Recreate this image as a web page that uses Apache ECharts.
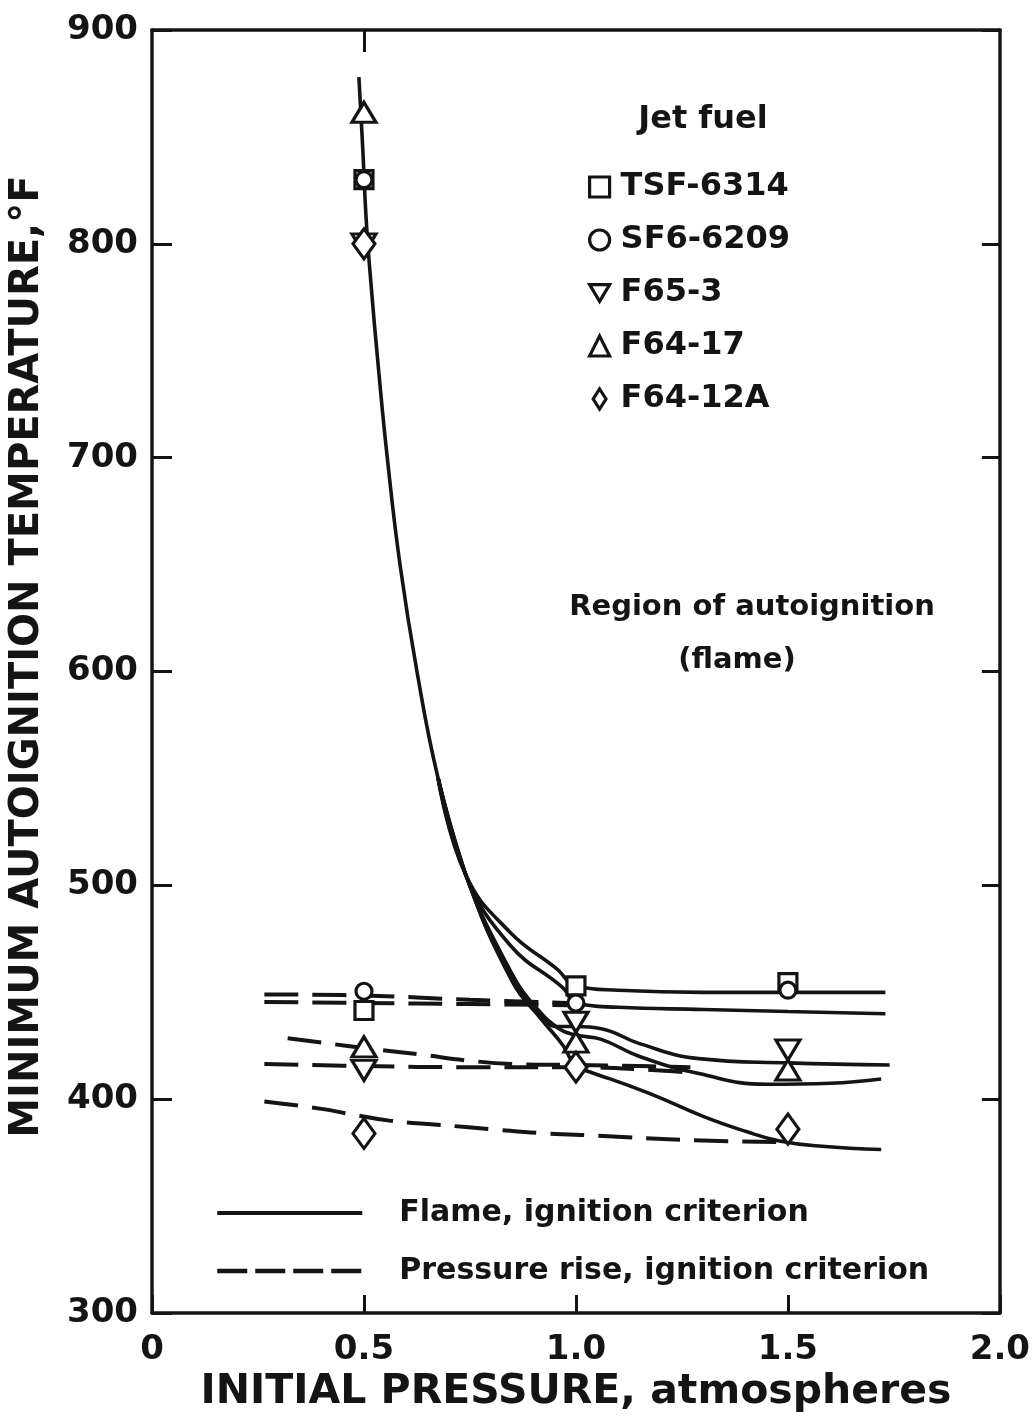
<!DOCTYPE html>
<html>
<head>
<meta charset="utf-8">
<script src="https://cdn.jsdelivr.net/npm/echarts@6/dist/echarts.min.js"></script>
<style>
  html, body { margin: 0; padding: 0; background: #fff; }
  #chart { width: 1033px; height: 1418px; }
</style>
</head>
<body>
<div id="chart"></div>
<script>
// Axis ticks
const xTickLabels = ['0', '0.5', '1.0', '1.5', '2.0'];
const yTicks = [300, 400, 500, 600, 700, 800, 900];

// Fuel names (legend order)
const fuels = ['TSF-6314', 'SF6-6209', 'F65-3', 'F64-17', 'F64-12A'];

// Measured points [initial pressure (atm), min. autoignition temperature (°F)]
const ptsTSF6314 = [[0.5, 830], [0.5, 441.5], [1.0, 453], [1.5, 454.5]];
const ptsSF66209 = [[0.5, 830], [0.5, 450.5], [1.0, 445], [1.5, 451]];
const ptsF653 = [[0.5, 800], [0.5, 413.5], [1.0, 436], [1.5, 423]];
const ptsF6417 = [[0.5, 861.5], [0.5, 424.5], [1.0, 426.7], [1.5, 413.7]];
const ptsF6412A = [[0.5, 800], [0.5, 384], [1.0, 415], [1.5, 386]];

// Flame ignition criterion curves (solid)
const flameTrunk = [[0.488, 878], [0.497, 845], [0.505, 812], [0.515, 785], [0.535, 740], [0.555, 700], [0.585, 650], [0.625, 600], [0.675, 550], [0.74, 505]];
const flameTSF6314 = [[0.675, 550], [0.74, 505], [0.845, 478], [0.955, 461], [1.0, 453], [1.1, 451], [1.3, 450], [1.5, 450], [1.73, 450]];
const flameSF66209 = [[0.675, 550], [0.74, 505], [0.845, 472], [0.97, 452], [1.0, 445], [1.1, 443], [1.3, 442], [1.5, 441], [1.73, 440]];
const flameF6417 = [[0.675, 550], [0.74, 505], [0.84, 462], [0.9, 444], [0.955, 434], [1.0, 434], [1.06, 433], [1.15, 426], [1.29, 419], [1.5, 417], [1.74, 416]];
const flameF653 = [[0.675, 550], [0.74, 505], [0.845, 458], [0.91, 442], [0.96, 433], [1.0, 430], [1.06, 428], [1.15, 420], [1.29, 412], [1.45, 407], [1.6, 407.5], [1.72, 409.5]];
const flameF6412A = [[0.675, 550], [0.74, 505], [0.85, 455], [0.92, 437], [0.97, 425], [1.0, 415], [1.03, 413], [1.17, 403], [1.3, 392], [1.4, 385], [1.48, 380.5], [1.58, 378], [1.72, 376.5]];

// Pressure rise ignition criterion curves (dashed)
const pressTSF6314 = [[0.265, 445.5], [0.5, 445], [0.75, 444.5], [0.98, 444]];
const pressSF66209 = [[0.265, 449], [0.5, 448.5], [0.75, 446.5], [0.98, 445]];
const pressF6417 = [[0.32, 428.5], [0.5, 424], [0.63, 421], [0.75, 418], [0.85, 416.5], [1.0, 416], [1.15, 415.5], [1.27, 415]];
const pressF653 = [[0.265, 416.5], [0.5, 415.5], [0.75, 415], [1.0, 415], [1.15, 414], [1.27, 412.5]];
const pressF6412A = [[0.265, 399], [0.4, 395.5], [0.47, 393], [0.56, 390], [0.68, 388], [0.8, 386], [0.93, 384], [1.05, 383], [1.25, 381], [1.48, 380]];

const FLAME = 'Flame, ignition criterion';
const PRESS = 'Pressure rise, ignition criterion';
const FONT = 'DejaVu Sans';
const INK = '#141414';
const DASH = [34, 14];

// Legend glyphs for the inverted triangle and the tall diamond
const ICON_DOWN_TRIANGLE = 'path://M0,0 L24,0 L12,20 Z';
const ICON_TALL_DIAMOND = 'path://M9,0 L18,14 L9,28 L0,14 Z';

function flameLine(data) {
  return {
    name: FLAME, type: 'line', data: data, symbol: 'none',
    smooth: 0.45, z: 2, silent: true,
    itemStyle: { color: INK },
    lineStyle: { color: INK, width: 3.6, type: 'solid' }
  };
}
function pressLine(data) {
  return {
    name: PRESS, type: 'line', data: data, symbol: 'none',
    smooth: 0.45, z: 2, silent: true,
    itemStyle: { color: INK },
    lineStyle: { color: INK, width: 4, type: DASH }
  };
}
function markers(name, data, symbol, size, rotate) {
  return {
    name: name, type: 'scatter', data: data, symbol: symbol,
    symbolSize: size, symbolRotate: rotate || 0, z: 5,
    itemStyle: { color: '#fff', borderColor: INK, borderWidth: 3.2, opacity: 1 }
  };
}

const chart = echarts.init(document.getElementById('chart'), null, { renderer: 'canvas' });

const option = {
  backgroundColor: '#fff',
  animation: false,
  grid: { left: 149, right: 30, top: 30, bottom: 95, containLabel: false },
  xAxis: [{
    type: 'value', position: 'bottom', min: 0, max: 2, interval: 0.5,
    name: 'INITIAL PRESSURE, atmospheres', nameLocation: 'middle', nameGap: 48,
    nameTextStyle: { fontFamily: FONT, fontWeight: 'bold', fontSize: 41, color: INK },
    axisLine: { show: true, onZero: false, lineStyle: { color: INK, width: 3.5 } },
    axisTick: { show: true, inside: true, length: 18, lineStyle: { color: INK, width: 3 } },
    axisLabel: {
      margin: 20, fontFamily: FONT, fontWeight: 'bold', fontSize: 34, color: INK,
      formatter: v => xTickLabels[Math.round(v / 0.5)]
    },
    splitLine: { show: false }
  }, {
    type: 'value', position: 'top', min: 0, max: 2, interval: 0.5,
    axisLine: { show: true, onZero: false, lineStyle: { color: INK, width: 3.5 } },
    axisTick: { show: true, inside: true, length: 22, customValues: [0.5], lineStyle: { color: INK, width: 3 } },
    axisLabel: { show: false },
    splitLine: { show: false }
  }],
  yAxis: [{
    type: 'value', position: 'left', min: yTicks[0], max: yTicks[yTicks.length - 1], interval: 100,
    name: 'MINIMUM AUTOIGNITION TEMPERATURE,°F', nameLocation: 'middle', nameGap: 104,
    nameTextStyle: { fontFamily: FONT, fontWeight: 'bold', fontSize: 40, color: INK, padding: [0, 0, 0, 30] },
    axisLine: { show: true, onZero: false, lineStyle: { color: INK, width: 3.5 } },
    axisTick: { show: true, inside: true, length: 20, lineStyle: { color: INK, width: 3 } },
    axisLabel: { margin: 14, fontFamily: FONT, fontWeight: 'bold', fontSize: 34, color: INK },
    splitLine: { show: false }
  }, {
    type: 'value', position: 'right', min: yTicks[0], max: yTicks[yTicks.length - 1], interval: 100,
    axisLine: { show: true, onZero: false, lineStyle: { color: INK, width: 3.5 } },
    axisTick: { show: true, inside: true, length: 18, lineStyle: { color: INK, width: 3 } },
    axisLabel: { show: false },
    splitLine: { show: false }
  }],
  legend: [{
    data: [
      { name: fuels[0] },
      { name: fuels[1] },
      { name: fuels[2], icon: ICON_DOWN_TRIANGLE },
      { name: fuels[3] },
      { name: fuels[4], icon: ICON_TALL_DIAMOND }
    ],
    orient: 'vertical', left: 583, top: 166,
    itemWidth: 20, itemHeight: 20, itemGap: 21,
    selectedMode: false,
    itemStyle: { color: '#fff', borderColor: INK, borderWidth: 3.2, opacity: 1 },
    textStyle: { fontFamily: FONT, fontWeight: 'bold', fontSize: 32, color: INK, padding: [0, 0, 0, 6] }
  }, {
    data: [
      { name: FLAME, lineStyle: { color: INK, width: 4, type: 'solid' } },
      { name: PRESS, lineStyle: { color: INK, width: 4.5, type: [30, 8] } }
    ],
    orient: 'vertical', left: 210, top: 1193,
    itemWidth: 145, itemHeight: 8, itemGap: 28,
    selectedMode: false,
    itemStyle: { opacity: 0 },
    textStyle: { fontFamily: FONT, fontWeight: 'bold', fontSize: 30, color: INK, padding: [0, 0, 0, 32] }
  }],
  graphic: [
    { type: 'text', x: 703, y: 120, style: { text: 'Jet fuel', fill: INK, font: 'bold 32px "DejaVu Sans"', textAlign: 'center', textVerticalAlign: 'middle' } },
    { type: 'text', x: 752, y: 607, style: { text: 'Region of autoignition', fill: INK, font: 'bold 29px "DejaVu Sans"', textAlign: 'center', textVerticalAlign: 'middle' } },
    { type: 'text', x: 737, y: 660, style: { text: '(flame)', fill: INK, font: 'bold 29px "DejaVu Sans"', textAlign: 'center', textVerticalAlign: 'middle' } }
  ],
  series: [
    flameLine(flameTrunk),
    flameLine(flameTSF6314),
    flameLine(flameSF66209),
    flameLine(flameF6417),
    flameLine(flameF653),
    flameLine(flameF6412A),
    pressLine(pressTSF6314),
    pressLine(pressSF66209),
    pressLine(pressF6417),
    pressLine(pressF653),
    pressLine(pressF6412A),
    markers(fuels[0], ptsTSF6314, 'rect', 18),
    markers(fuels[1], ptsSF66209, 'circle', 16),
    markers(fuels[2], ptsF653, 'triangle', [24, 20], 180),
    markers(fuels[3], ptsF6417, 'triangle', [24, 20]),
    markers(fuels[4], ptsF6412A, 'diamond', [22, 30])
  ]
};

chart.setOption(option);
</script>
</body>
</html>
